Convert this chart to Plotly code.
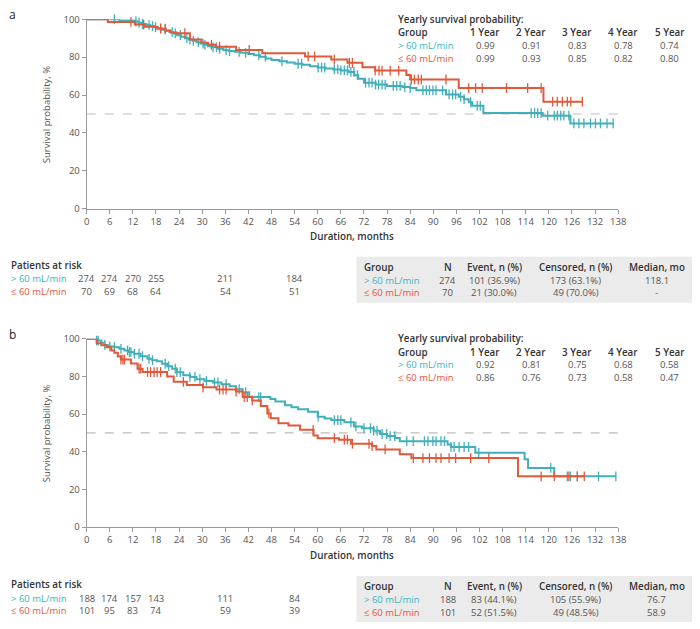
import plotly.graph_objects as go

W, H = 700, 629
TEAL = "#41AFBA"
RED = "#E05A3A"
TEAL_T = "#3BB3C1"
RED_T = "#E4563A"
FONT = "Open Sans"

# ---------------- data ----------------
months_ticks = list(range(0, 139, 6))
groups = ["> 60 mL/min", "\u2264 60 mL/min"]

# Panel a: Kaplan-Meier steps (time in months, survival %)
a_hi_t = [0, 8.5, 12.5, 13.5, 14.5, 15.5, 16.5, 17.5, 18.5, 19.5, 20.5, 21.5, 22.5, 23.5, 24.5,
          25.5, 26.5, 27.5, 28.5, 29.5, 30.5, 31.5, 32.5, 34, 35.5, 37, 38.5, 40, 42, 43.5, 45,
          46.5, 48, 50, 52, 54, 56, 58, 60, 62, 64, 66, 68, 69.5, 70.5, 72, 75, 78, 82, 84,
          85.6, 93.3, 96.6, 98, 99.2, 100.1, 103, 118.4, 125.6]
a_hi_s = [100, 99.3, 98.8, 98.2, 97.5, 97, 96.4, 95.8, 95.2, 94.5, 93.9, 93.2, 92.5, 91.6, 90.8,
          90, 89.3, 88.6, 87.9, 87.2, 86.5, 85.8, 85.2, 84.4, 83.7, 83.2, 82.8, 82.3, 81.6, 81,
          80.2, 79.3, 78.5, 77.8, 77.2, 76.5, 76, 75.2, 74.5, 74, 73.5, 73, 72.2, 70.5, 68.6,
          66.5, 65.5, 64.8, 64.2, 63.7, 62.5, 60.3, 59.1, 57.8, 56.2, 54.3, 50.5, 49.1, 45]
a_hi_c = [7.2, 12.8, 13.6, 14.5, 16.2, 17.1, 17.9, 19.2, 20.4, 22.2, 23, 24.3, 26, 26.8, 27.7,
          29, 30.2, 30.7, 32.8, 33.7, 34.5, 36.2, 37.1, 39.6, 41.3, 44.7, 46.4, 50.7, 54.9,
          55.8, 60.1, 61, 61.8, 64.3, 65.2, 66, 66.9, 67.7, 68.6, 69.4, 70.3, 72.4, 73.3, 74.1,
          75, 75.8, 76.7, 77.5, 79.6, 80.5, 81.4, 82.6, 84, 87.3, 88.2, 89, 89.9, 90.7, 92.4,
          94.1, 95, 95.8, 97.1, 98, 99.7, 101.4, 102.2, 115.4, 116.3, 117.1, 118, 119.7, 121.4,
          122.2, 123.1, 123.9, 125.2, 126.5, 127.8, 129.1, 130.8, 132.1, 133.4, 135.1, 136.7]

a_lo_t = [0, 5.5, 12.5, 15, 18.3, 20.5, 21.8, 23.4, 26.8, 29.8, 31.5, 33.5, 38.8, 45.6, 56.7,
          63.5, 67.7, 71.6, 74.9, 83, 84, 96.6, 118.6]
a_lo_s = [100, 98.6, 97.2, 96, 95, 94, 93, 92.6, 89.3, 87.6, 86.5, 85.5, 83.8, 82, 80.4, 78.7,
          77, 74.6, 72.9, 70.6, 68.2, 63.7, 56.5]
a_lo_c = [11.5, 14.8, 19.2, 20.4, 25.5, 32.4, 34.5, 42.2, 57.5, 59.2, 64.3, 68.2, 69, 74.9,
          75.9, 76.7, 78.8, 81, 84.3, 85.1, 86.1, 86.9, 93.3, 99.2, 101, 102.7, 109, 114.5, 118,
          121, 122.2, 123.5, 124.8, 125.7, 128.7]

# Panel b
b_hi_t = [0, 2.6, 3.8, 4.6, 5.5, 7.2, 8.5, 9.8, 11, 12.3, 14, 15.8, 17, 18.3, 19.6, 20.9, 22.2,
          23.4, 25.1, 26.8, 28.5, 30.6, 32.8, 35, 37.1, 38.8, 40.5, 42.2, 47.7, 49, 51.5, 53.2,
          54.9, 57.5, 60, 61.8, 63.5, 66.9, 69.4, 71.5, 74.5, 76.2, 78, 80.1, 81.3, 93.7, 94.6,
          100.9, 113.7, 114.6, 121.4]
b_hi_s = [100, 99, 97.8, 96.7, 95.9, 95.5, 94.6, 93.8, 92.9, 92, 90.7, 89.3, 88.6, 88, 86.7,
          85.4, 84.1, 82.2, 80.6, 79.7, 78.5, 77.6, 76.8, 75.8, 74.7, 73.2, 71.6, 69, 68, 66.7,
          64.6, 63.6, 62.6, 61.2, 58.6, 57.6, 56.8, 55.6, 53.4, 52.5, 51.1, 49.4, 48.3, 47.3,
          45.6, 43.8, 42.5, 39.4, 36, 31.4, 26.9]
b_hi_c = [2.6, 3.0, 4.7, 6.0, 7.2, 8.9, 10.6, 11.1, 11.5, 12.4, 13.6, 14.5, 16.2, 17.1, 20.4,
          21.3, 23, 23.4, 24.3, 26.8, 28.1, 29.4, 31.1, 33.2, 34.1, 36.2, 39.6, 41.3, 44.7, 45.2,
          60.1, 64.3, 65.2, 66, 68.6, 69.9, 72, 73.7, 74.5, 75.4, 76.7, 77.9, 78.8, 80, 83.1,
          84.8, 87.7, 88.6, 89.9, 90.7, 92, 92.9, 94.6, 95.4, 96.7, 98, 99.2, 101.8, 120.5,
          124.8, 125.6, 127.4, 132.9, 137.4]

b_lo_t = [0, 2.6, 3.8, 5.1, 6.4, 7.2, 8.1, 8.9, 11.5, 13.2, 14.5, 20.9, 22.6, 26, 30.2, 33.7,
          38.8, 40.5, 43, 45.2, 46.9, 47.8, 49.8, 52.4, 55.4, 58.9, 60, 65.5, 68.6, 74.1, 75.2,
          81.3, 84.3, 112]
b_lo_s = [100, 97.6, 96.5, 95.5, 93.8, 92.6, 90.6, 88.9, 86.8, 84.1, 82.3, 79.9, 77.1, 75.4,
          74.2, 73, 71.9, 69, 67.2, 64.3, 60.3, 57.7, 55.1, 53.9, 51.6, 48.6, 47.2, 46.4, 44.2,
          43, 41.2, 38.6, 36.6, 26.9]
b_lo_c = [8.9, 9.4, 9.8, 13.6, 14, 15.8, 16.6, 17.5, 18.3, 19.2, 25.1, 30.2, 34.5, 35.4, 36.2,
          38.8, 40.9, 41.7, 43, 47.3, 58.8, 64.3, 66.9, 67.7, 69, 73.3, 74.1, 77.5, 84.8, 87.3,
          89, 90.7, 92, 94.1, 95.8, 99.7, 104.4, 118, 121.4, 125.2, 127.4, 129.2]

# Tables
risk_months = [0, 6, 12, 18, 36, 54]
a_risk_hi = [274, 274, 270, 255, 211, 184]
a_risk_lo = [70, 69, 68, 64, 54, 51]
b_risk_hi = [188, 174, 157, 143, 111, 84]
b_risk_lo = [101, 95, 83, 74, 59, 39]

year_labels = ["1 Year", "2 Year", "3 Year", "4 Year", "5 Year"]
a_year_hi = ["0.99", "0.91", "0.83", "0.78", "0.74"]
a_year_lo = ["0.99", "0.93", "0.85", "0.82", "0.80"]
b_year_hi = ["0.92", "0.81", "0.75", "0.68", "0.58"]
b_year_lo = ["0.86", "0.76", "0.73", "0.58", "0.47"]

stat_headers = ["Group", "N", "Event, n (%)", "Censored, n (%)", "Median, mo"]
a_stat_hi = ["274", "101 (36.9%)", "173 (63.1%)", "118.1"]
a_stat_lo = ["70", "21 (30.0%)", "49 (70.0%)", "-"]
b_stat_hi = ["188", "83 (44.1%)", "105 (55.9%)", "76.7"]
b_stat_lo = ["101", "52 (51.5%)", "49 (48.5%)", "58.9"]

# ---------------- helpers ----------------
def px(x):
    return x / W

def py(y):
    return 1 - y / H

def surv_at(ts, ss, t):
    v = ss[0]
    for ti, si in zip(ts, ss):
        if ti <= t:
            v = si
    return v

fig = go.Figure()

X0, X1 = 85, 625
panels = [
    dict(top=12.5, bot=206, xa="x", ya="y", hi=(a_hi_t, a_hi_s, a_hi_c), lo=(a_lo_t, a_lo_s, a_lo_c),
         risk=(a_risk_hi, a_risk_lo), year=(a_year_hi, a_year_lo), stat=(a_stat_hi, a_stat_lo),
         label="a", off=0),
    dict(top=338.7, bot=531, xa="x2", ya="y2", hi=(b_hi_t, b_hi_s, b_hi_c), lo=(b_lo_t, b_lo_s, b_lo_c),
         risk=(b_risk_hi, b_risk_lo), year=(b_year_hi, b_year_lo), stat=(b_stat_hi, b_stat_lo),
         label="b", off=326),
]

annotations = []
shapes = []
VS = 9.5   # value font size
HS = 9.8   # header font size

def ann(text, x, y, size=VS, color="#555", xanchor="left", xref="paper", weight=None, **kw):
    f = dict(family=FONT, size=size, color=color)
    if weight:
        f["weight"] = weight
    annotations.append(dict(text=text, x=x, y=y, xref=xref, yref="paper", showarrow=False,
                            xanchor=xanchor, yanchor="middle", font=f, borderpad=0, **kw))

for i, p in enumerate(panels):
    xa, ya = p["xa"], p["ya"]
    shapes.append(dict(type="line", xref=xa, yref=ya, x0=0, x1=138, y0=50, y1=50,
                       line=dict(color="#BDBDBD", width=1.2, dash="dash"), layer="below"))
    for (ts, ss, cs), col in [(p["hi"], TEAL), (p["lo"], RED)]:
        end = max(cs[-1], ts[-1])
        fig.add_trace(go.Scatter(x=ts + [end], y=ss + [ss[-1]], mode="lines", line_shape="hv",
                                 line=dict(color=col, width=2), xaxis=xa, yaxis=ya,
                                 hoverinfo="skip", showlegend=False, cliponaxis=False))
        fig.add_trace(go.Scatter(x=cs, y=[surv_at(ts, ss, c) for c in cs], mode="markers",
                                 marker=dict(symbol="line-ns-open", size=7, color=col,
                                             line=dict(color=col, width=1.3)),
                                 xaxis=xa, yaxis=ya, hoverinfo="skip", showlegend=False,
                                 cliponaxis=False))

    o = p["off"]
    ann(p["label"], px(5), py(8 + o), size=12, color="#222")
    ann("Survival probability, %", px(45), py((p["top"] + p["bot"]) / 2), size=9.5,
        color="#555", xanchor="center", textangle=-90)
    ann("Duration, months", px(355), py(234 + o), size=HS, color="#333", xanchor="center",
        weight=600)

    # yearly survival table
    ann("Yearly survival probability:", px(400), py(13 + o), size=HS, color="#333", weight=600)
    ann("Group", px(400), py(26.5 + o), size=HS, color="#333", weight=600)
    for j, yl in enumerate(year_labels):
        ann(yl, px(490 + j * 46.8), py(26.5 + o), size=HS, color="#333", xanchor="center",
            weight=600)
    for r, (g, vals, tc) in enumerate(zip(groups, p["year"], [TEAL_T, RED_T])):
        yy = py(39.5 + 13 * r + o)
        ann(g, px(400), yy, color=tc)
        for j, v in enumerate(vals):
            ann(v, px(490 + j * 46.8), yy, color="#555", xanchor="center")

    # patients at risk
    ann("Patients at risk", px(7), py(264 + o), size=HS, color="#333", weight=600)
    for r, (g, vals, tc) in enumerate(zip(groups, p["risk"], [TEAL_T, RED_T])):
        yy = py(277.5 + 13 * r + o)
        ann(g, px(7), yy, color=tc)
        for m, v in zip(risk_months, vals):
            ann(str(v), m, yy, color="#555", xanchor="center", xref=xa)

    # stats box
    shapes.append(dict(type="rect", xref="paper", yref="paper", x0=px(359), x1=px(700),
                       y0=py(255 + o), y1=py(302 + o), fillcolor="#EBEBEB", line=dict(width=0),
                       layer="below"))
    ann(stat_headers[0], px(366), py(266 + o), size=HS, color="#333", weight=600)
    col_x = [452, 499, 582, 664]
    for h, cx in zip(stat_headers[1:], col_x):
        ann(h, px(cx), py(266 + o), size=HS, color="#333", xanchor="center", weight=600)
    for r, (g, vals, tc) in enumerate(zip(groups, p["stat"], [TEAL_T, RED_T])):
        yy = py(279 + 13 * r + o)
        ann(g, px(366), yy, color=tc)
        for v, cx in zip(vals, col_x):
            ann(v, px(cx), yy, color="#555", xanchor="center")

axis_common = dict(showgrid=False, zeroline=False, showline=True, linecolor="#9A9A9A",
                   linewidth=1, ticks="outside", ticklen=4, tickcolor="#9A9A9A",
                   tickfont=dict(family=FONT, size=9.5, color="#555"))

layout = dict(width=W, height=H, margin=dict(l=0, r=0, t=0, b=0), paper_bgcolor="white",
              plot_bgcolor="white", annotations=annotations, shapes=shapes, showlegend=False)
for i, p in enumerate(panels):
    sx = "" if i == 0 else "2"
    layout["xaxis" + sx] = dict(axis_common, domain=[px(X0), px(X1)], range=[0, 138],
                                tickvals=months_ticks, anchor="y" + sx)
    layout["yaxis" + sx] = dict(axis_common, domain=[py(p["bot"]), py(p["top"])], range=[0, 100],
                                tickvals=[0, 20, 40, 60, 80, 100], anchor="x" + sx)

fig.update_layout(**layout)
fig.write_html("out.html", config={"displayModeBar": False},
               post_script="document.body.style.margin='0';document.body.style.overflow='hidden';")
